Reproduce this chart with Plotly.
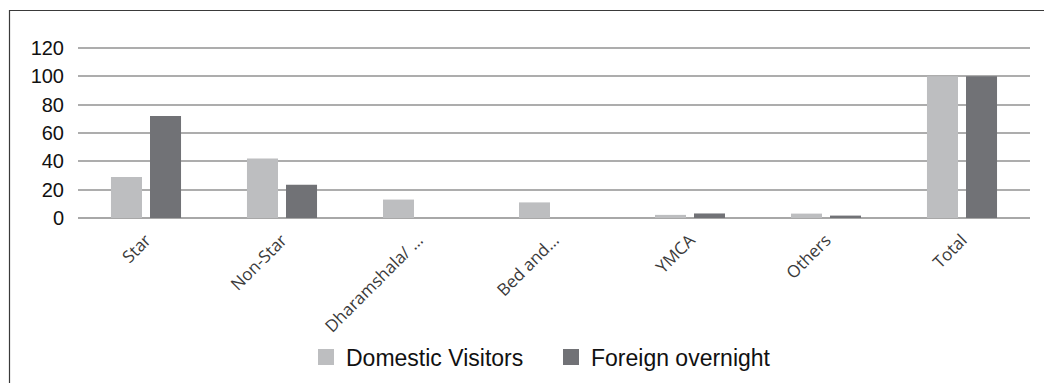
import plotly.graph_objects as go

categories = ["Star", "Non-Star", "Dharamshala/ …", "Bed and…", "YMCA", "Others", "Total"]
domestic = [29, 42, 13, 11, 2.2, 3.1, 100]
foreign = [72, 23.5, 0, 0, 3.2, 1.7, 100]
series_names = ["Domestic Visitors", "Foreign overnight"]
y_ticks = [0, 20, 40, 60, 80, 100, 120]

c_dom = "#BDBEC0"
c_for = "#717276"

fig = go.Figure()
fig.add_trace(go.Bar(x=categories, y=domestic, name=series_names[0], marker_color=c_dom,
                     marker_line_width=0, showlegend=False))
fig.add_trace(go.Bar(x=categories, y=foreign, name=series_names[1], marker_color=c_for,
                     marker_line_width=0, showlegend=False))
# legend proxies
fig.add_trace(go.Scatter(x=[None], y=[None], mode="markers", name=series_names[0],
                         marker=dict(symbol="square", size=16, color=c_dom)))
fig.add_trace(go.Scatter(x=[None], y=[None], mode="markers", name=series_names[1],
                         marker=dict(symbol="square", size=16, color=c_for)))

W, H = 1044, 383
ml, mr, mt, mb = 78, 14, 45, 165
pw = W - ml - mr
ph = H - mt - mb

def px_x(p):
    return (p - ml) / pw

def px_y(p):
    return (H - mb - p) / ph

fig.update_layout(
    width=W, height=H,
    margin=dict(l=ml, r=mr, t=mt, b=mb, autoexpand=False),
    paper_bgcolor="white", plot_bgcolor="white",
    barmode="group", bargap=0.426, bargroupgap=0.205,
    showlegend=True,
    legend=dict(orientation="h", x=px_x(551), xanchor="center", y=px_y(357), yanchor="middle",
                font=dict(family="Liberation Sans", size=23, color="#111111"),
                itemsizing="trace", tracegroupgap=0, bgcolor="rgba(0,0,0,0)",
                entrywidth=200, entrywidthmode="pixels"),
    xaxis=dict(tickangle=-45, showgrid=False, showline=False, ticks="", automargin=False,
               tickfont=dict(family="Open Sans", size=17, color="#3A3A3A"),
               ticklabelstandoff=8),
    yaxis=dict(range=[0, 122], tickvals=y_ticks, showgrid=True, gridcolor="#ADADAD",
               gridwidth=1.5, zeroline=True, zerolinecolor="#A8A8A8", zerolinewidth=1.5,
               showline=False, ticks="", automargin=False,
               tickfont=dict(family="Liberation Sans", size=20, color="#111111"),
               ticklabelstandoff=13, fixedrange=True),
    shapes=[dict(type="rect", xref="paper", yref="paper",
                 x0=px_x(9.5), x1=px_x(1060), y0=px_y(10.5), y1=px_y(400),
                 line=dict(color="#3A3A3A", width=1.2), fillcolor="rgba(0,0,0,0)", layer="below")],
)

fig.write_html("out.html")
